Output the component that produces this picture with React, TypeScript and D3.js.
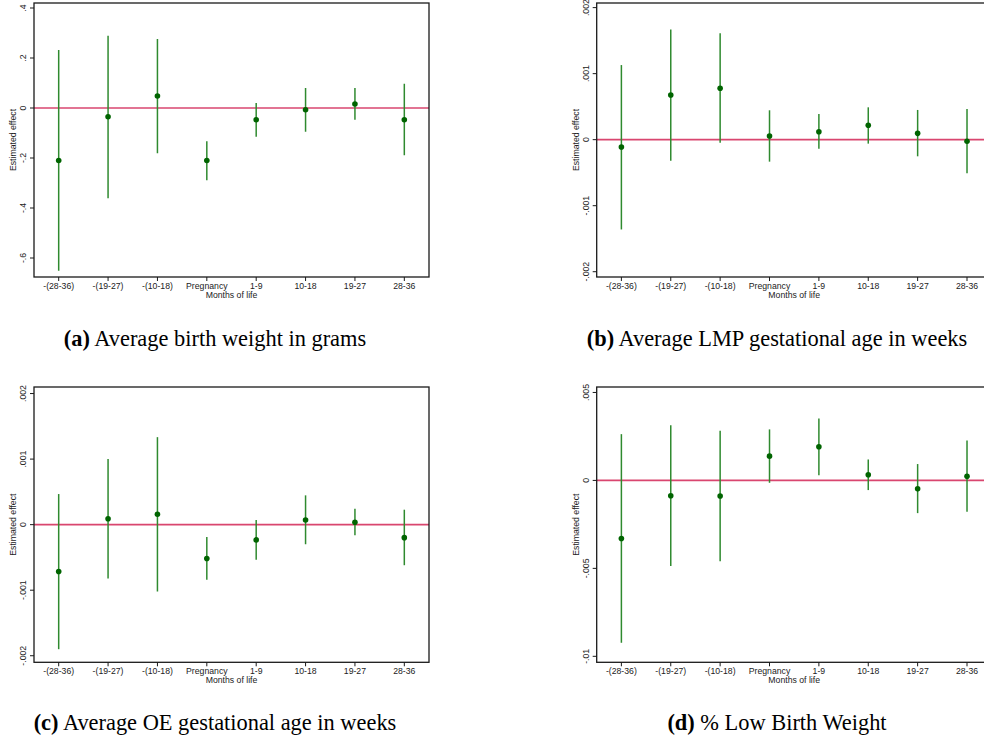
import React, { useRef, useEffect } from "react";
import { select, scalePoint, scaleLinear } from "d3";

const categories = ["-(28-36)", "-(19-27)", "-(10-18)", "Pregnancy", "1-9", "10-18", "19-27", "28-36"];

// (a) birth weight
const bwEst = [-0.21, -0.035, 0.048, -0.21, -0.047, -0.007, 0.016, -0.047];
const bwLo = [-0.651, -0.361, -0.181, -0.289, -0.115, -0.095, -0.047, -0.189];
const bwHi = [0.232, 0.289, 0.276, -0.133, 0.02, 0.08, 0.08, 0.097];
const bwTicks = [-0.6, -0.4, -0.2, 0, 0.2, 0.4];
const bwRange = [-0.676, 0.42];

// (b) LMP gestational age
const lmpEst = [-0.000111, 0.000677, 0.000779, 0.000056, 0.000121, 0.000218, 0.000096, -0.000025];
const lmpLo = [-0.00136, -0.000318, -0.000045, -0.000333, -0.000136, -0.00006, -0.000252, -0.00051];
const lmpHi = [0.00113, 0.00167, 0.00161, 0.000445, 0.00039, 0.00049, 0.00045, 0.000465];
const lmpTicks = [-0.002, -0.001, 0, 0.001, 0.002];
const lmpRange = [-0.00208, 0.00207];

// (c) OE gestational age
const oeEst = [-0.000715, 0.000091, 0.000158, -0.000517, -0.000233, 0.000071, 0.000036, -0.000198];
const oeLo = [-0.0019, -0.00082, -0.00102, -0.00084, -0.000537, -0.000299, -0.000162, -0.000619];
const oeHi = [0.000467, 0.001, 0.001335, -0.000187, 0.00007, 0.000447, 0.000243, 0.000228];
const oeTicks = [-0.002, -0.001, 0, 0.001, 0.002];
const oeRange = [-0.0021, 0.0021];

// (d) % low birth weight
const lbwEst = [-0.0033, -0.000875, -0.00089, 0.00138, 0.00191, 0.00032, -0.00048, 0.00024];
const lbwLo = [-0.00923, -0.00487, -0.00459, -0.000136, 0.0003, -0.00055, -0.00186, -0.00178];
const lbwHi = [0.00263, 0.00314, 0.00282, 0.0029, 0.00352, 0.00119, 0.00093, 0.00227];
const lbwTicks = [-0.01, -0.005, 0, 0.005];
const lbwRange = [-0.01034, 0.00531];

const panels = [
  { tag: "(a)", caption: "Average birth weight in grams", est: bwEst, lo: bwLo, hi: bwHi, ticks: bwTicks, range: bwRange, col: 0, row: 0 },
  { tag: "(b)", caption: "Average LMP gestational age in weeks", est: lmpEst, lo: lmpLo, hi: lmpHi, ticks: lmpTicks, range: lmpRange, col: 1, row: 0 },
  { tag: "(c)", caption: "Average OE gestational age in weeks", est: oeEst, lo: oeLo, hi: oeHi, ticks: oeTicks, range: oeRange, col: 0, row: 1 },
  { tag: "(d)", caption: "% Low Birth Weight", est: lbwEst, lo: lbwLo, hi: lbwHi, ticks: lbwTicks, range: lbwRange, col: 1, row: 1 },
];

const W = 984;
const H = 745;
const colLeft = [34, 596.7];
const plotW = 395;
const rowTop = [3, 387];
const plotH = [274, 275.3];
const captionY = [346, 730];
const captionX = [215, 777];

const sans = "'Liberation Sans', Arial, sans-serif";
const serif = "'Liberation Serif', 'Times New Roman', serif";

// stata style labels: .2, -.001, 0
const fmt = (v: number) => (v === 0 ? "0" : String(+v.toFixed(4)).replace("0.", "."));

function App() {
  const svgRef = useRef<SVGSVGElement>(null);

  useEffect(() => {
    const svg = select(svgRef.current);
    svg.selectAll("*").remove();

    panels.forEach((p) => {
      const left = colLeft[p.col];
      const top = rowTop[p.row];
      const bottom = top + plotH[p.row];
      const right = left + plotW;

      const x = scalePoint().domain(categories).range([left, right]).padding(0.5);
      const y = scaleLinear().domain(p.range).range([bottom, top]);

      const g = svg.append("g");

      // zero reference line
      g.append("line")
        .attr("x1", left)
        .attr("x2", right)
        .attr("y1", y(0))
        .attr("y2", y(0))
        .attr("stroke", "#d9466f")
        .attr("stroke-width", 1.6);

      // confidence intervals
      g.selectAll(".ci")
        .data(categories)
        .join("line")
        .attr("class", "ci")
        .attr("x1", (d) => x(d))
        .attr("x2", (d) => x(d))
        .attr("y1", (d, i) => y(p.lo[i]))
        .attr("y2", (d, i) => y(p.hi[i]))
        .attr("stroke", "#2f8a2f")
        .attr("stroke-width", 1.5);

      // point estimates
      g.selectAll(".pt")
        .data(categories)
        .join("circle")
        .attr("class", "pt")
        .attr("cx", (d) => x(d))
        .attr("cy", (d, i) => y(p.est[i]))
        .attr("r", 2.8)
        .attr("fill", "#006400");

      // frame
      g.append("rect")
        .attr("x", left)
        .attr("y", top)
        .attr("width", plotW)
        .attr("height", bottom - top)
        .attr("fill", "none")
        .attr("stroke", "#1a1a1a")
        .attr("stroke-width", 1.3);

      // y ticks
      p.ticks.forEach((t) => {
        g.append("line")
          .attr("x1", left - 4)
          .attr("x2", left)
          .attr("y1", y(t))
          .attr("y2", y(t))
          .attr("stroke", "#1a1a1a")
          .attr("stroke-width", 1);
        g.append("text")
          .attr("transform", `translate(${left - 8},${y(t)}) rotate(-90)`)
          .attr("text-anchor", "middle")
          .attr("font-family", sans)
          .attr("font-size", 8.7)
          .attr("fill", "#222")
          .text(fmt(t));
      });

      g.append("text")
        .attr("transform", `translate(${left - 18},${(top + bottom) / 2}) rotate(-90)`)
        .attr("text-anchor", "middle")
        .attr("font-family", sans)
        .attr("font-size", 8.7)
        .attr("fill", "#222")
        .text("Estimated effect");

      // x ticks
      categories.forEach((c) => {
        g.append("line")
          .attr("x1", x(c))
          .attr("x2", x(c))
          .attr("y1", bottom)
          .attr("y2", bottom + 4)
          .attr("stroke", "#1a1a1a")
          .attr("stroke-width", 1);
        g.append("text")
          .attr("x", x(c))
          .attr("y", bottom + 12)
          .attr("text-anchor", "middle")
          .attr("font-family", sans)
          .attr("font-size", 8.7)
          .attr("fill", "#222")
          .text(c);
      });

      g.append("text")
        .attr("x", (left + right) / 2)
        .attr("y", bottom + 20.5)
        .attr("text-anchor", "middle")
        .attr("font-family", sans)
        .attr("font-size", 8.7)
        .attr("fill", "#222")
        .text("Months of life");

      // sub caption
      const cap = svg.append("text")
        .attr("x", captionX[p.col])
        .attr("y", captionY[p.row])
        .attr("text-anchor", "middle")
        .attr("font-family", serif)
        .attr("font-size", 22.4)
        .attr("fill", "#000");
      cap.append("tspan").attr("font-weight", "bold").text(p.tag);
      cap.append("tspan").text(" " + p.caption);
    });
  }, []);

  return (
    <svg
      ref={svgRef}
      width={W}
      height={H}
      style={{ position: "absolute", left: 0, top: 0, background: "#fff" }}
    ></svg>
  );
}

export default App;
